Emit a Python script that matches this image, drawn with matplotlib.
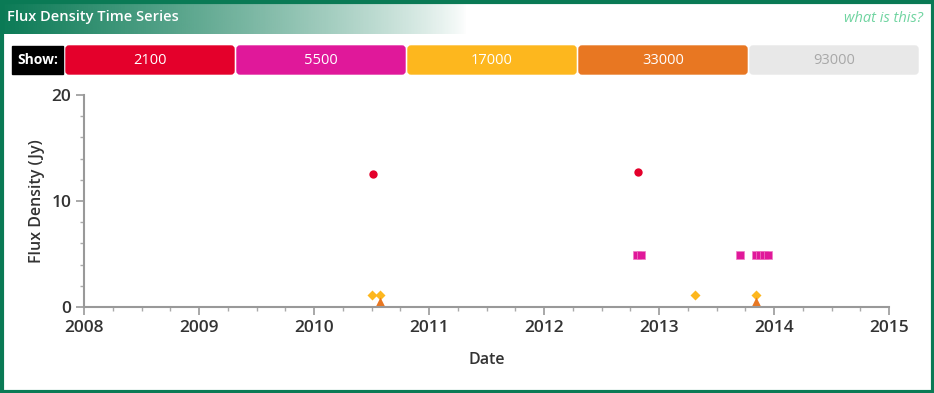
import matplotlib.pyplot as plt
import numpy as np
from matplotlib.patches import FancyBboxPatch, Rectangle

plt.rcParams['font.family'] = ['Open Sans', 'DejaVu Sans']

# data (decimal years, Jy)
freqs = ["2100", "5500", "17000", "33000", "93000"]
colors = ["#e4002b", "#e0189a", "#fdb71e", "#e87722", "#e8e8e8"]
text_colors = ["white", "white", "white", "white", "#a8a8a8"]

t_2100 = [2010.51, 2012.82]
f_2100 = [12.55, 12.7]

t_5500 = [2012.81, 2012.845, 2013.70, 2013.84, 2013.875, 2013.913, 2013.952]
f_5500 = [4.95, 4.95, 4.95, 4.95, 4.95, 4.95, 4.95]

t_17000 = [2010.50, 2010.574, 2013.315, 2013.846]
f_17000 = [1.15, 1.15, 1.15, 1.15]

t_33000 = [2010.574, 2013.846]
f_33000 = [0.45, 0.45]

year_ticks = [2008, 2009, 2010, 2011, 2012, 2013, 2014, 2015]
flux_ticks = [0, 10, 20]

W, H = 934, 393
fig = plt.figure(figsize=(W / 100, H / 100), dpi=100)

# decoration layer in pixel coords
bg = fig.add_axes([0, 0, 1, 1])
bg.set_xlim(0, W)
bg.set_ylim(H, 0)
bg.axis("off")

green = "#0a7a55"
grad = np.linspace(0, 1, 256)
img = np.zeros((1, 256, 4))
img[0, :, :3] = np.array([10, 122, 85]) / 255.0
img[0, :, 3] = (1 - grad) ** 0.8
bg.imshow(img, extent=(0, 468, 34, 0), aspect="auto", zorder=1)
bg.text(7, 17, "Flux Density Time Series", color="white", fontsize=10.5,
        fontweight="semibold", va="center", ha="left", zorder=3)
bg.text(923, 18, "what is this?", color="#6fd4a0", fontsize=10.5,
        style="italic", va="center", ha="right", zorder=3)

# frame
bg.add_patch(Rectangle((1.5, 1.5), W - 3, H - 3, fill=False, ec=green, lw=3, zorder=5))

# show buttons
bg.add_patch(Rectangle((12, 46), 51, 28, color="black", zorder=2))
bg.text(37.5, 60, "Show:", color="white", fontsize=10, fontweight="bold",
        ha="center", va="center", zorder=3)
x0 = 66
bw = 168
for i, name in enumerate(freqs):
    xl = x0 + i * 171
    bg.add_patch(FancyBboxPatch((xl, 46), bw, 28, boxstyle="round,pad=0,rounding_size=3",
                                color=colors[i], zorder=2))
    bg.text(xl + bw / 2, 60, name, color=text_colors[i], fontsize=10.5,
            ha="center", va="center", zorder=3)

# main plot
ax = fig.add_axes([84 / W, 1 - 307 / H, (889 - 84) / W, (307 - 95) / H])
ax.patch.set_alpha(0)
ax.plot(t_2100, f_2100, "o", color=colors[0], ms=6, mec="none", clip_on=False)
ax.plot(t_5500, f_5500, "s", color=colors[1], ms=5.5, mec="#f07cc4", mew=0.5, clip_on=False)
ax.plot(t_17000, f_17000, "D", color=colors[2], ms=5.5, mec="none", clip_on=False)
ax.plot(t_33000, f_33000, "^", color=colors[3], ms=7, mec="none", clip_on=False)

ax.set_xlim(2008, 2015)
ax.set_ylim(0, 20)
ax.set_xticks(year_ticks)
ax.set_xticks(np.arange(2008, 2015.01, 0.25), minor=True)
ax.set_yticks(flux_ticks)
ax.set_yticks(np.arange(0, 20.01, 2), minor=True)
ax.set_xticklabels([str(y) for y in year_ticks], fontweight="semibold")
ax.set_yticklabels([str(v) for v in flux_ticks], fontweight="semibold")

for s in ["top", "right"]:
    ax.spines[s].set_visible(False)
for s in ["left", "bottom"]:
    ax.spines[s].set_color("#999999")
    ax.spines[s].set_linewidth(1.5)
ax.tick_params(which="major", length=6, width=1.2, color="#999999",
               labelsize=12.5, labelcolor="#333333", pad=3)
ax.tick_params(which="minor", length=3, width=1, color="#aaaaaa")
ax.set_xlabel("Date", fontsize=11.5, color="#333333", labelpad=12, fontweight="semibold")
ax.set_ylabel("Flux Density (Jy)", fontsize=11.5, color="#333333", labelpad=5,
              fontweight="semibold")

fig.savefig("out.png", dpi=100)
